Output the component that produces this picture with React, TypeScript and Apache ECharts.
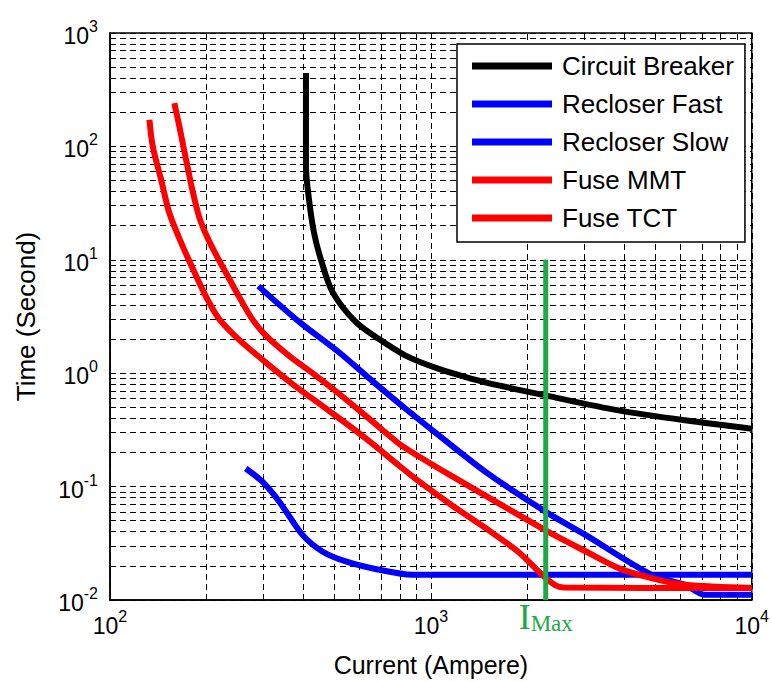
import React, { useEffect, useRef } from "react";
import * as echarts from "echarts";

// ---- data (Current in A, Time in s) ----
const breakerCurrent = [408, 408, 417, 432, 454, 494, 583, 689, 834, 1059, 1341, 1627, 2274, 3845, 6196, 10000];
const breakerTime = [443, 66.9, 34.1, 17.5, 10.1, 5.19, 2.83, 2.0, 1.43, 1.09, 0.893, 0.78, 0.637, 0.47, 0.384, 0.324];

const fastCurrent = [265, 299, 337, 398, 459, 543, 689, 875, 10000];
const fastTime = [0.1445, 0.11, 0.0736, 0.0375, 0.0268, 0.0219, 0.0185, 0.0167, 0.0167];

const slowCurrent = [290, 388, 517, 655, 834, 1059, 1480, 2274, 3030, 4868, 6196, 7149, 10000];
const slowTime = [5.86, 2.85, 1.53, 0.86, 0.486, 0.283, 0.135, 0.0602, 0.0375, 0.0167, 0.0136, 0.0111, 0.0111];

const mmtCurrent = [132.7, 135.9, 144.3, 153, 168.4, 184.5, 201, 219, 252.8, 306.8, 369.6, 471.5, 628, 795, 918, 1162, 1483, 1878, 2220, 2443, 2593, 10000];
const mmtTime = [172, 100, 51, 26, 13.2, 7.47, 4.51, 3.0, 1.966, 1.234, 0.807, 0.4866, 0.265, 0.1536, 0.111, 0.0684, 0.0429, 0.0264, 0.0167, 0.0135, 0.0129, 0.01275];

const tctCurrent = [158.7, 164.5, 172.6, 181, 189.8, 201, 214.5, 230.3, 252.8, 277.5, 306.8, 361.6, 438.8, 517.3, 641.6, 795, 918, 1138, 1627, 2279, 3034, 3845, 4868, 6196, 10000];
const tctTime = [241, 150, 76.6, 40.1, 23.7, 15.8, 10.97, 7.62, 4.69, 3.0, 2.13, 1.422, 0.949, 0.659, 0.3975, 0.2397, 0.1842, 0.128, 0.0712, 0.0412, 0.0269, 0.0191, 0.0156, 0.0136, 0.01275];

const imaxCurrent = 2280;
const imaxTime = [10, 0.01];

const seriesNames = ["Circuit Breaker", "Recloser Fast", "Recloser Slow", "Fuse MMT", "Fuse TCT"];
const seriesColors = ["#000000", "#0000ff", "#0000ff", "#ff0000", "#ff0000"];

const xRange = [100, 10000];
const yRange = [0.01, 1000];

const xTitle = "Current (Ampere)";
const yTitle = "Time (Second)";

export default function App() {
  const ref = useRef<HTMLDivElement>(null);

  useEffect(() => {
    const chart = echarts.init(ref.current!, null, { renderer: "svg" });
    const sans = "'Liberation Sans', Arial, Helvetica, sans-serif";
    const serif = "'Liberation Serif', 'Times New Roman', serif";
    const green = "#20a848";
    const dash = [6, 4];

    const zip = (xs: number[], ys: number[]) => xs.map((x, i) => [x, ys[i]]);

    // minor log grid positions (2..9 x each decade)
    const minorVals = (lo: number, hi: number) => {
      const out: number[] = [];
      for (let d = lo; d < hi; d *= 10) {
        for (let k = 2; k <= 9; k++) out.push(+(d * k).toPrecision(6));
      }
      return out;
    };
    const xMinor = minorVals(xRange[0], xRange[1]);
    const yMinor = minorVals(yRange[0], yRange[1]);

    const labelFmt = (v: number) => `{b|10}{s|${Math.round(Math.log10(v))}}`;
    const rich = {
      b: { fontSize: 23, fontFamily: sans, color: "#000", lineHeight: 29, verticalAlign: "bottom" },
      s: { fontSize: 16, fontFamily: sans, color: "#000", lineHeight: 16, verticalAlign: "top" },
    };

    const curves = [
      zip(breakerCurrent, breakerTime),
      zip(fastCurrent, fastTime),
      zip(slowCurrent, slowTime),
      zip(mmtCurrent, mmtTime),
      zip(tctCurrent, tctTime),
    ];

    const option: any = {
      animation: false,
      grid: {
        left: 110,
        right: 18,
        top: 33,
        bottom: 80,
        show: true,
        borderColor: "#000",
        borderWidth: 1.5,
        backgroundColor: "#fff",
      },
      legend: {
        data: seriesNames,
        orient: "vertical",
        left: 457,
        top: 44,
        z: 20,
        icon: "rect",
        itemWidth: 80,
        itemHeight: 7,
        itemGap: 12,
        padding: [9, 11, 11, 15],
        backgroundColor: "#fff",
        borderColor: "#000",
        borderWidth: 1.5,
        selectedMode: false,
        textStyle: { fontSize: 26, fontFamily: sans, color: "#000", padding: [0, 0, 0, 5] },
      },
      xAxis: {
        type: "log",
        logBase: 10,
        min: xRange[0],
        max: xRange[1],
        name: xTitle,
        nameLocation: "middle",
        nameGap: 52,
        nameTextStyle: { fontSize: 25, fontFamily: sans, color: "#000" },
        axisLine: { show: true, lineStyle: { color: "#000", width: 1.5 } },
        axisTick: { show: true, inside: true, length: 6, lineStyle: { color: "#000" } },
        axisLabel: { formatter: labelFmt, rich, margin: 8, showMinLabel: true, showMaxLabel: true },
        splitLine: { show: true, lineStyle: { color: "#000", width: 1, type: dash } },
      },
      yAxis: {
        type: "log",
        logBase: 10,
        min: yRange[0],
        max: yRange[1],
        name: yTitle,
        nameLocation: "middle",
        nameGap: 71,
        nameTextStyle: { fontSize: 26, fontFamily: sans, color: "#000" },
        axisLine: { show: true, lineStyle: { color: "#000", width: 1.5 } },
        axisTick: { show: true, inside: true, length: 6, lineStyle: { color: "#000" } },
        axisLabel: { formatter: labelFmt, rich, margin: 12, showMinLabel: true, showMaxLabel: true },
        splitLine: { show: true, lineStyle: { color: "#000", width: 1, type: dash } },
      },
      series: [
        {
          type: "line",
          name: "minor-grid",
          data: [],
          z: 1,
          silent: true,
          markLine: {
            z: 1,
            silent: true,
            symbol: ["none", "none"],
            label: { show: false },
            lineStyle: { color: "#000", width: 1, type: dash },
            emphasis: { disabled: true },
            data: [
              ...xMinor.map((v) => ({ xAxis: v })),
              ...yMinor.map((v) => ({ yAxis: v })),
            ],
          },
        },
        ...curves.map((d, i) => ({
          type: "line",
          name: seriesNames[i],
          data: d,
          z: 3,
          smooth: 0.3,
          showSymbol: false,
          color: seriesColors[i],
          lineStyle: { color: seriesColors[i], width: 6 },
          silent: true,
        })),
        {
          type: "line",
          name: "IMax",
          z: 4,
          silent: true,
          color: green,
          symbol: "circle",
          symbolSize: 1,
          showSymbol: true,
          lineStyle: { color: green, width: 5 },
          data: [
            [imaxCurrent, imaxTime[0]],
            {
              value: [imaxCurrent, imaxTime[1]],
              label: {
                show: true,
                position: "bottom",
                distance: 0,
                formatter: "{i|I}{m|Max}",
                rich: {
                  i: { fontFamily: serif, fontSize: 36, color: green, lineHeight: 34, verticalAlign: "bottom" },
                  m: { fontFamily: serif, fontSize: 23, color: green, lineHeight: 23, verticalAlign: "bottom" },
                },
              },
            },
          ],
        },
      ],
    };

    chart.setOption(option);
    return () => chart.dispose();
  }, []);

  return (
    <div
      ref={ref}
      style={{ position: "fixed", left: 0, top: 0, width: 772, height: 682, background: "#fff" }}
    />
  );
}
